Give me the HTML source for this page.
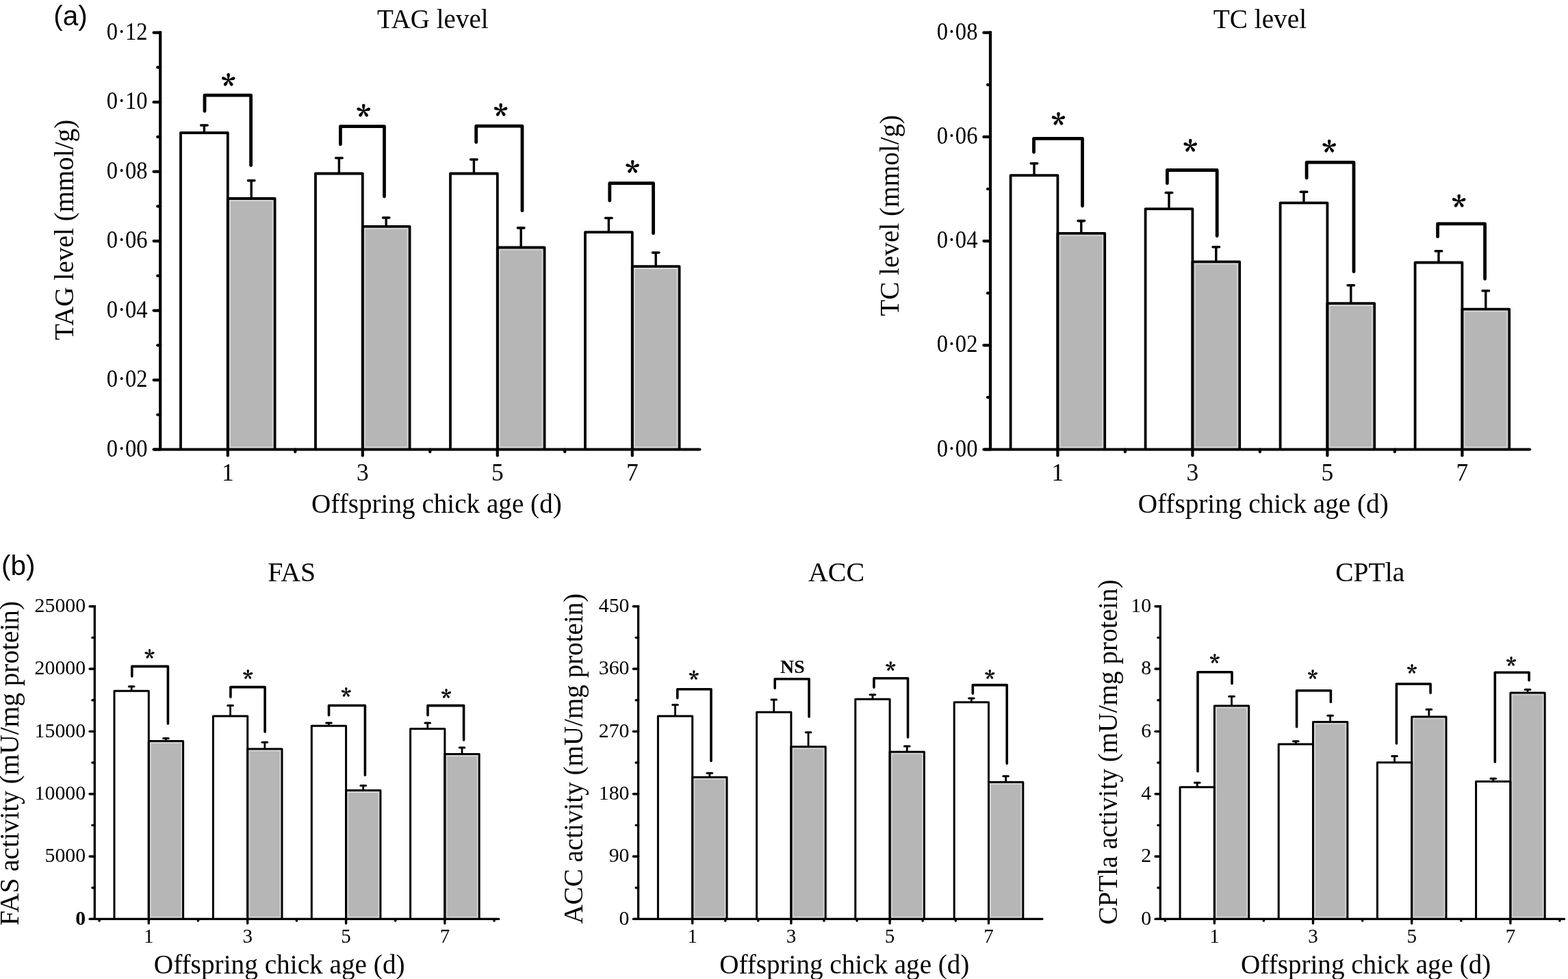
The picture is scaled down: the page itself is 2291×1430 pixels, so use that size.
<!DOCTYPE html>
<html><head><meta charset="utf-8"><title>Figure</title>
<style>html,body{margin:0;padding:0;background:#fff;} svg{display:block;}</style>
</head><body>
<svg width="2291" height="1430" viewBox="0 0 2291 1430">
<rect width="2291" height="1430" fill="#fff"/>
<rect x="334.70" y="291.90" width="65.00" height="362.50" fill="#d4d4d4"/>
<rect x="336.90" y="294.10" width="60.60" height="358.10" fill="#b6b6b6"/>
<path d="M264.00,656.50 V194.00 H332.80 V656.50" fill="none" stroke="#000" stroke-width="3.8" stroke-linejoin="round"/>
<path d="M332.80,656.50 V290.00 H401.60 V656.50" fill="none" stroke="#000" stroke-width="3.8" stroke-linejoin="round"/>
<line x1="298.40" y1="194.00" x2="298.40" y2="183.00" stroke="#000" stroke-width="3.4" stroke-linecap="butt"/>
<line x1="293.70" y1="183.00" x2="303.10" y2="183.00" stroke="#000" stroke-width="3.6" stroke-linecap="round"/>
<line x1="367.20" y1="290.00" x2="367.20" y2="263.80" stroke="#000" stroke-width="3.4" stroke-linecap="butt"/>
<line x1="362.50" y1="263.80" x2="371.90" y2="263.80" stroke="#000" stroke-width="3.6" stroke-linecap="round"/>
<path d="M299.00,162.30 V139.20 H366.60 V241.50" fill="none" stroke="#000" stroke-width="4.8" stroke-linecap="round" stroke-linejoin="round"/>
<text x="333.80" y="141.50" font-family='"Noto Serif CJK SC", "Liberation Serif", serif' font-size="42" font-weight="bold" text-anchor="middle" stroke="#000" stroke-width="0.6" stroke-linejoin="round">*</text>
<rect x="531.70" y="332.70" width="65.00" height="321.70" fill="#d4d4d4"/>
<rect x="533.90" y="334.90" width="60.60" height="317.30" fill="#b6b6b6"/>
<path d="M461.00,656.50 V253.50 H529.80 V656.50" fill="none" stroke="#000" stroke-width="3.8" stroke-linejoin="round"/>
<path d="M529.80,656.50 V330.80 H598.60 V656.50" fill="none" stroke="#000" stroke-width="3.8" stroke-linejoin="round"/>
<line x1="495.40" y1="253.50" x2="495.40" y2="230.80" stroke="#000" stroke-width="3.4" stroke-linecap="butt"/>
<line x1="490.70" y1="230.80" x2="500.10" y2="230.80" stroke="#000" stroke-width="3.6" stroke-linecap="round"/>
<line x1="564.20" y1="330.80" x2="564.20" y2="318.00" stroke="#000" stroke-width="3.4" stroke-linecap="butt"/>
<line x1="559.50" y1="318.00" x2="568.90" y2="318.00" stroke="#000" stroke-width="3.6" stroke-linecap="round"/>
<path d="M497.40,210.80 V184.60 H561.50 V287.00" fill="none" stroke="#000" stroke-width="4.8" stroke-linecap="round" stroke-linejoin="round"/>
<text x="531.20" y="186.80" font-family='"Noto Serif CJK SC", "Liberation Serif", serif' font-size="42" font-weight="bold" text-anchor="middle" stroke="#000" stroke-width="0.6" stroke-linejoin="round">*</text>
<rect x="728.70" y="363.40" width="65.00" height="291.00" fill="#d4d4d4"/>
<rect x="730.90" y="365.60" width="60.60" height="286.60" fill="#b6b6b6"/>
<path d="M658.00,656.50 V253.50 H726.80 V656.50" fill="none" stroke="#000" stroke-width="3.8" stroke-linejoin="round"/>
<path d="M726.80,656.50 V361.50 H795.60 V656.50" fill="none" stroke="#000" stroke-width="3.8" stroke-linejoin="round"/>
<line x1="692.40" y1="253.50" x2="692.40" y2="233.00" stroke="#000" stroke-width="3.4" stroke-linecap="butt"/>
<line x1="687.70" y1="233.00" x2="697.10" y2="233.00" stroke="#000" stroke-width="3.6" stroke-linecap="round"/>
<line x1="761.20" y1="361.50" x2="761.20" y2="332.90" stroke="#000" stroke-width="3.4" stroke-linecap="butt"/>
<line x1="756.50" y1="332.90" x2="765.90" y2="332.90" stroke="#000" stroke-width="3.6" stroke-linecap="round"/>
<path d="M695.70,207.70 V184.20 H763.00 V307.70" fill="none" stroke="#000" stroke-width="4.8" stroke-linecap="round" stroke-linejoin="round"/>
<text x="731.80" y="186.10" font-family='"Noto Serif CJK SC", "Liberation Serif", serif' font-size="42" font-weight="bold" text-anchor="middle" stroke="#000" stroke-width="0.6" stroke-linejoin="round">*</text>
<rect x="925.70" y="391.10" width="65.00" height="263.30" fill="#d4d4d4"/>
<rect x="927.90" y="393.30" width="60.60" height="258.90" fill="#b6b6b6"/>
<path d="M855.00,656.50 V339.20 H923.80 V656.50" fill="none" stroke="#000" stroke-width="3.8" stroke-linejoin="round"/>
<path d="M923.80,656.50 V389.20 H992.60 V656.50" fill="none" stroke="#000" stroke-width="3.8" stroke-linejoin="round"/>
<line x1="889.40" y1="339.20" x2="889.40" y2="318.50" stroke="#000" stroke-width="3.4" stroke-linecap="butt"/>
<line x1="884.70" y1="318.50" x2="894.10" y2="318.50" stroke="#000" stroke-width="3.6" stroke-linecap="round"/>
<line x1="958.20" y1="389.20" x2="958.20" y2="369.00" stroke="#000" stroke-width="3.4" stroke-linecap="butt"/>
<line x1="953.50" y1="369.00" x2="962.90" y2="369.00" stroke="#000" stroke-width="3.6" stroke-linecap="round"/>
<path d="M890.80,293.00 V267.70 H954.60 V340.80" fill="none" stroke="#000" stroke-width="4.8" stroke-linecap="round" stroke-linejoin="round"/>
<text x="924.30" y="269.20" font-family='"Noto Serif CJK SC", "Liberation Serif", serif' font-size="42" font-weight="bold" text-anchor="middle" stroke="#000" stroke-width="0.6" stroke-linejoin="round">*</text>
<line x1="234.20" y1="45.60" x2="234.20" y2="656.50" stroke="#000" stroke-width="4.2" stroke-linecap="butt"/>
<line x1="225.20" y1="656.50" x2="1022.40" y2="656.50" stroke="#000" stroke-width="4.2" stroke-linecap="round"/>
<line x1="224.60" y1="47.70" x2="234.20" y2="47.70" stroke="#000" stroke-width="4.2" stroke-linecap="round"/>
<line x1="230.20" y1="98.43" x2="234.20" y2="98.43" stroke="#000" stroke-width="4.2" stroke-linecap="round"/>
<line x1="224.60" y1="149.17" x2="234.20" y2="149.17" stroke="#000" stroke-width="4.2" stroke-linecap="round"/>
<line x1="230.20" y1="199.90" x2="234.20" y2="199.90" stroke="#000" stroke-width="4.2" stroke-linecap="round"/>
<line x1="224.60" y1="250.63" x2="234.20" y2="250.63" stroke="#000" stroke-width="4.2" stroke-linecap="round"/>
<line x1="230.20" y1="301.37" x2="234.20" y2="301.37" stroke="#000" stroke-width="4.2" stroke-linecap="round"/>
<line x1="224.60" y1="352.10" x2="234.20" y2="352.10" stroke="#000" stroke-width="4.2" stroke-linecap="round"/>
<line x1="230.20" y1="402.83" x2="234.20" y2="402.83" stroke="#000" stroke-width="4.2" stroke-linecap="round"/>
<line x1="224.60" y1="453.57" x2="234.20" y2="453.57" stroke="#000" stroke-width="4.2" stroke-linecap="round"/>
<line x1="230.20" y1="504.30" x2="234.20" y2="504.30" stroke="#000" stroke-width="4.2" stroke-linecap="round"/>
<line x1="224.60" y1="555.03" x2="234.20" y2="555.03" stroke="#000" stroke-width="4.2" stroke-linecap="round"/>
<line x1="230.20" y1="605.77" x2="234.20" y2="605.77" stroke="#000" stroke-width="4.2" stroke-linecap="round"/>
<line x1="224.60" y1="656.50" x2="234.20" y2="656.50" stroke="#000" stroke-width="4.2" stroke-linecap="round"/>
<line x1="332.80" y1="656.50" x2="332.80" y2="665.50" stroke="#000" stroke-width="4.2" stroke-linecap="round"/>
<line x1="529.80" y1="656.50" x2="529.80" y2="665.50" stroke="#000" stroke-width="4.2" stroke-linecap="round"/>
<line x1="726.80" y1="656.50" x2="726.80" y2="665.50" stroke="#000" stroke-width="4.2" stroke-linecap="round"/>
<line x1="923.80" y1="656.50" x2="923.80" y2="665.50" stroke="#000" stroke-width="4.2" stroke-linecap="round"/>
<line x1="431.30" y1="656.50" x2="431.30" y2="659.90" stroke="#000" stroke-width="4.2" stroke-linecap="round"/>
<line x1="628.30" y1="656.50" x2="628.30" y2="659.90" stroke="#000" stroke-width="4.2" stroke-linecap="round"/>
<line x1="825.30" y1="656.50" x2="825.30" y2="659.90" stroke="#000" stroke-width="4.2" stroke-linecap="round"/>
<text x="0.00" y="0.00" font-family='"Liberation Serif", "Times New Roman", serif' font-size="35.5" font-weight="normal" text-anchor="end" transform="translate(215.70,57.80) scale(0.92,1)">0·12</text>
<text x="0.00" y="0.00" font-family='"Liberation Serif", "Times New Roman", serif' font-size="35.5" font-weight="normal" text-anchor="end" transform="translate(215.70,159.27) scale(0.92,1)">0·10</text>
<text x="0.00" y="0.00" font-family='"Liberation Serif", "Times New Roman", serif' font-size="35.5" font-weight="normal" text-anchor="end" transform="translate(215.70,260.73) scale(0.92,1)">0·08</text>
<text x="0.00" y="0.00" font-family='"Liberation Serif", "Times New Roman", serif' font-size="35.5" font-weight="normal" text-anchor="end" transform="translate(215.70,362.20) scale(0.92,1)">0·06</text>
<text x="0.00" y="0.00" font-family='"Liberation Serif", "Times New Roman", serif' font-size="35.5" font-weight="normal" text-anchor="end" transform="translate(215.70,463.67) scale(0.92,1)">0·04</text>
<text x="0.00" y="0.00" font-family='"Liberation Serif", "Times New Roman", serif' font-size="35.5" font-weight="normal" text-anchor="end" transform="translate(215.70,565.13) scale(0.92,1)">0·02</text>
<text x="0.00" y="0.00" font-family='"Liberation Serif", "Times New Roman", serif' font-size="35.5" font-weight="normal" text-anchor="end" transform="translate(215.70,666.60) scale(0.92,1)">0·00</text>
<text x="332.80" y="701.70" font-family='"Liberation Serif", "Times New Roman", serif' font-size="35.5" font-weight="normal" text-anchor="middle">1</text>
<text x="529.80" y="701.70" font-family='"Liberation Serif", "Times New Roman", serif' font-size="35.5" font-weight="normal" text-anchor="middle">3</text>
<text x="726.80" y="701.70" font-family='"Liberation Serif", "Times New Roman", serif' font-size="35.5" font-weight="normal" text-anchor="middle">5</text>
<text x="923.80" y="701.70" font-family='"Liberation Serif", "Times New Roman", serif' font-size="35.5" font-weight="normal" text-anchor="middle">7</text>
<text x="551.01" y="40.80" font-family='"Liberation Serif", "Times New Roman", serif' font-size="39.5" font-weight="normal" text-anchor="start" textLength="162.53" lengthAdjust="spacingAndGlyphs">TAG level</text>
<text x="455.02" y="749.00" font-family='"Liberation Serif", "Times New Roman", serif' font-size="39.5" font-weight="normal" text-anchor="start" textLength="365.77" lengthAdjust="spacingAndGlyphs">Offspring chick age (d)</text>
<text transform="translate(106.50,496.90) rotate(-90)" x="0" y="0" font-family='"Liberation Serif", "Times New Roman", serif' font-size="39.5" textLength="322.22" lengthAdjust="spacingAndGlyphs">TAG level (mmol/g)</text>
<rect x="1547.30" y="342.70" width="65.00" height="311.70" fill="#d4d4d4"/>
<rect x="1549.50" y="344.90" width="60.60" height="307.30" fill="#b6b6b6"/>
<path d="M1476.60,656.50 V256.20 H1545.40 V656.50" fill="none" stroke="#000" stroke-width="3.8" stroke-linejoin="round"/>
<path d="M1545.40,656.50 V340.80 H1614.20 V656.50" fill="none" stroke="#000" stroke-width="3.8" stroke-linejoin="round"/>
<line x1="1511.00" y1="256.20" x2="1511.00" y2="238.80" stroke="#000" stroke-width="3.4" stroke-linecap="butt"/>
<line x1="1506.30" y1="238.80" x2="1515.70" y2="238.80" stroke="#000" stroke-width="3.6" stroke-linecap="round"/>
<line x1="1579.80" y1="340.80" x2="1579.80" y2="322.60" stroke="#000" stroke-width="3.4" stroke-linecap="butt"/>
<line x1="1575.10" y1="322.60" x2="1584.50" y2="322.60" stroke="#000" stroke-width="3.6" stroke-linecap="round"/>
<path d="M1510.50,222.30 V202.30 H1581.50 V300.80" fill="none" stroke="#000" stroke-width="4.8" stroke-linecap="round" stroke-linejoin="round"/>
<text x="1546.50" y="199.20" font-family='"Noto Serif CJK SC", "Liberation Serif", serif' font-size="42" font-weight="bold" text-anchor="middle" stroke="#000" stroke-width="0.6" stroke-linejoin="round">*</text>
<rect x="1744.30" y="384.20" width="65.00" height="270.20" fill="#d4d4d4"/>
<rect x="1746.50" y="386.40" width="60.60" height="265.80" fill="#b6b6b6"/>
<path d="M1673.60,656.50 V305.10 H1742.40 V656.50" fill="none" stroke="#000" stroke-width="3.8" stroke-linejoin="round"/>
<path d="M1742.40,656.50 V382.30 H1811.20 V656.50" fill="none" stroke="#000" stroke-width="3.8" stroke-linejoin="round"/>
<line x1="1708.00" y1="305.10" x2="1708.00" y2="281.50" stroke="#000" stroke-width="3.4" stroke-linecap="butt"/>
<line x1="1703.30" y1="281.50" x2="1712.70" y2="281.50" stroke="#000" stroke-width="3.6" stroke-linecap="round"/>
<line x1="1776.80" y1="382.30" x2="1776.80" y2="360.80" stroke="#000" stroke-width="3.4" stroke-linecap="butt"/>
<line x1="1772.10" y1="360.80" x2="1781.50" y2="360.80" stroke="#000" stroke-width="3.6" stroke-linecap="round"/>
<path d="M1705.40,267.70 V248.50 H1778.20 V344.60" fill="none" stroke="#000" stroke-width="4.8" stroke-linecap="round" stroke-linejoin="round"/>
<text x="1739.20" y="238.40" font-family='"Noto Serif CJK SC", "Liberation Serif", serif' font-size="42" font-weight="bold" text-anchor="middle" stroke="#000" stroke-width="0.6" stroke-linejoin="round">*</text>
<rect x="1941.30" y="445.00" width="65.00" height="209.40" fill="#d4d4d4"/>
<rect x="1943.50" y="447.20" width="60.60" height="205.00" fill="#b6b6b6"/>
<path d="M1870.60,656.50 V296.30 H1939.40 V656.50" fill="none" stroke="#000" stroke-width="3.8" stroke-linejoin="round"/>
<path d="M1939.40,656.50 V443.10 H2008.20 V656.50" fill="none" stroke="#000" stroke-width="3.8" stroke-linejoin="round"/>
<line x1="1905.00" y1="296.30" x2="1905.00" y2="280.30" stroke="#000" stroke-width="3.4" stroke-linecap="butt"/>
<line x1="1900.30" y1="280.30" x2="1909.70" y2="280.30" stroke="#000" stroke-width="3.6" stroke-linecap="round"/>
<line x1="1973.80" y1="443.10" x2="1973.80" y2="416.70" stroke="#000" stroke-width="3.4" stroke-linecap="butt"/>
<line x1="1969.10" y1="416.70" x2="1978.50" y2="416.70" stroke="#000" stroke-width="3.6" stroke-linecap="round"/>
<path d="M1909.10,259.90 V237.20 H1978.00 V396.80" fill="none" stroke="#000" stroke-width="4.8" stroke-linecap="round" stroke-linejoin="round"/>
<text x="1942.20" y="238.50" font-family='"Noto Serif CJK SC", "Liberation Serif", serif' font-size="42" font-weight="bold" text-anchor="middle" stroke="#000" stroke-width="0.6" stroke-linejoin="round">*</text>
<rect x="2138.30" y="453.60" width="65.00" height="200.80" fill="#d4d4d4"/>
<rect x="2140.50" y="455.80" width="60.60" height="196.40" fill="#b6b6b6"/>
<path d="M2067.60,656.50 V383.50 H2136.40 V656.50" fill="none" stroke="#000" stroke-width="3.8" stroke-linejoin="round"/>
<path d="M2136.40,656.50 V451.70 H2205.20 V656.50" fill="none" stroke="#000" stroke-width="3.8" stroke-linejoin="round"/>
<line x1="2102.00" y1="383.50" x2="2102.00" y2="366.70" stroke="#000" stroke-width="3.4" stroke-linecap="butt"/>
<line x1="2097.30" y1="366.70" x2="2106.70" y2="366.70" stroke="#000" stroke-width="3.6" stroke-linecap="round"/>
<line x1="2170.80" y1="451.70" x2="2170.80" y2="424.80" stroke="#000" stroke-width="3.4" stroke-linecap="butt"/>
<line x1="2166.10" y1="424.80" x2="2175.50" y2="424.80" stroke="#000" stroke-width="3.6" stroke-linecap="round"/>
<path d="M2100.60,345.70 V326.90 H2169.60 V407.30" fill="none" stroke="#000" stroke-width="4.8" stroke-linecap="round" stroke-linejoin="round"/>
<text x="2131.80" y="319.40" font-family='"Noto Serif CJK SC", "Liberation Serif", serif' font-size="42" font-weight="bold" text-anchor="middle" stroke="#000" stroke-width="0.6" stroke-linejoin="round">*</text>
<line x1="1447.00" y1="45.60" x2="1447.00" y2="656.50" stroke="#000" stroke-width="4.2" stroke-linecap="butt"/>
<line x1="1438.00" y1="656.50" x2="2235.00" y2="656.50" stroke="#000" stroke-width="4.2" stroke-linecap="round"/>
<line x1="1437.40" y1="47.70" x2="1447.00" y2="47.70" stroke="#000" stroke-width="4.2" stroke-linecap="round"/>
<line x1="1443.00" y1="123.80" x2="1447.00" y2="123.80" stroke="#000" stroke-width="4.2" stroke-linecap="round"/>
<line x1="1437.40" y1="199.90" x2="1447.00" y2="199.90" stroke="#000" stroke-width="4.2" stroke-linecap="round"/>
<line x1="1443.00" y1="276.00" x2="1447.00" y2="276.00" stroke="#000" stroke-width="4.2" stroke-linecap="round"/>
<line x1="1437.40" y1="352.10" x2="1447.00" y2="352.10" stroke="#000" stroke-width="4.2" stroke-linecap="round"/>
<line x1="1443.00" y1="428.20" x2="1447.00" y2="428.20" stroke="#000" stroke-width="4.2" stroke-linecap="round"/>
<line x1="1437.40" y1="504.30" x2="1447.00" y2="504.30" stroke="#000" stroke-width="4.2" stroke-linecap="round"/>
<line x1="1443.00" y1="580.40" x2="1447.00" y2="580.40" stroke="#000" stroke-width="4.2" stroke-linecap="round"/>
<line x1="1437.40" y1="656.50" x2="1447.00" y2="656.50" stroke="#000" stroke-width="4.2" stroke-linecap="round"/>
<line x1="1545.40" y1="656.50" x2="1545.40" y2="665.50" stroke="#000" stroke-width="4.2" stroke-linecap="round"/>
<line x1="1742.40" y1="656.50" x2="1742.40" y2="665.50" stroke="#000" stroke-width="4.2" stroke-linecap="round"/>
<line x1="1939.40" y1="656.50" x2="1939.40" y2="665.50" stroke="#000" stroke-width="4.2" stroke-linecap="round"/>
<line x1="2136.40" y1="656.50" x2="2136.40" y2="665.50" stroke="#000" stroke-width="4.2" stroke-linecap="round"/>
<line x1="1643.90" y1="656.50" x2="1643.90" y2="659.90" stroke="#000" stroke-width="4.2" stroke-linecap="round"/>
<line x1="1840.90" y1="656.50" x2="1840.90" y2="659.90" stroke="#000" stroke-width="4.2" stroke-linecap="round"/>
<line x1="2037.90" y1="656.50" x2="2037.90" y2="659.90" stroke="#000" stroke-width="4.2" stroke-linecap="round"/>
<text x="0.00" y="0.00" font-family='"Liberation Serif", "Times New Roman", serif' font-size="35.5" font-weight="normal" text-anchor="end" transform="translate(1428.50,57.80) scale(0.92,1)">0·08</text>
<text x="0.00" y="0.00" font-family='"Liberation Serif", "Times New Roman", serif' font-size="35.5" font-weight="normal" text-anchor="end" transform="translate(1428.50,210.00) scale(0.92,1)">0·06</text>
<text x="0.00" y="0.00" font-family='"Liberation Serif", "Times New Roman", serif' font-size="35.5" font-weight="normal" text-anchor="end" transform="translate(1428.50,362.20) scale(0.92,1)">0·04</text>
<text x="0.00" y="0.00" font-family='"Liberation Serif", "Times New Roman", serif' font-size="35.5" font-weight="normal" text-anchor="end" transform="translate(1428.50,514.40) scale(0.92,1)">0·02</text>
<text x="0.00" y="0.00" font-family='"Liberation Serif", "Times New Roman", serif' font-size="35.5" font-weight="normal" text-anchor="end" transform="translate(1428.50,666.60) scale(0.92,1)">0·00</text>
<text x="1545.40" y="701.70" font-family='"Liberation Serif", "Times New Roman", serif' font-size="35.5" font-weight="normal" text-anchor="middle">1</text>
<text x="1742.40" y="701.70" font-family='"Liberation Serif", "Times New Roman", serif' font-size="35.5" font-weight="normal" text-anchor="middle">3</text>
<text x="1939.40" y="701.70" font-family='"Liberation Serif", "Times New Roman", serif' font-size="35.5" font-weight="normal" text-anchor="middle">5</text>
<text x="2136.40" y="701.70" font-family='"Liberation Serif", "Times New Roman", serif' font-size="35.5" font-weight="normal" text-anchor="middle">7</text>
<text x="1772.71" y="40.80" font-family='"Liberation Serif", "Times New Roman", serif' font-size="39.5" font-weight="normal" text-anchor="start" textLength="136.41" lengthAdjust="spacingAndGlyphs">TC level</text>
<text x="1662.72" y="749.10" font-family='"Liberation Serif", "Times New Roman", serif' font-size="39.5" font-weight="normal" text-anchor="start" textLength="365.98" lengthAdjust="spacingAndGlyphs">Offspring chick age (d)</text>
<text transform="translate(1312.50,461.79) rotate(-90)" x="0" y="0" font-family='"Liberation Serif", "Times New Roman", serif' font-size="39.5" textLength="293.98" lengthAdjust="spacingAndGlyphs">TC level (mmol/g)</text>
<rect x="218.80" y="1084.00" width="47.30" height="256.75" fill="#d4d4d4"/>
<rect x="220.80" y="1086.00" width="43.30" height="252.75" fill="#b6b6b6"/>
<path d="M167.00,1342.40 V1009.30 H217.30 V1342.40" fill="none" stroke="#000" stroke-width="3.0" stroke-linejoin="round"/>
<path d="M217.30,1342.40 V1082.50 H267.60 V1342.40" fill="none" stroke="#000" stroke-width="3.0" stroke-linejoin="round"/>
<line x1="192.15" y1="1009.30" x2="192.15" y2="1002.70" stroke="#000" stroke-width="2.8" stroke-linecap="butt"/>
<line x1="188.35" y1="1002.70" x2="195.95" y2="1002.70" stroke="#000" stroke-width="3.0" stroke-linecap="round"/>
<line x1="242.45" y1="1082.50" x2="242.45" y2="1078.50" stroke="#000" stroke-width="2.8" stroke-linecap="butt"/>
<line x1="238.65" y1="1078.50" x2="246.25" y2="1078.50" stroke="#000" stroke-width="3.0" stroke-linecap="round"/>
<path d="M192.80,987.90 V973.40 H245.40 V1057.10" fill="none" stroke="#000" stroke-width="3.6" stroke-linecap="round" stroke-linejoin="round"/>
<text x="218.60" y="973.30" font-family='"Noto Serif CJK SC", "Liberation Serif", serif' font-size="30" font-weight="bold" text-anchor="middle" stroke="#000" stroke-width="0.5" stroke-linejoin="round">*</text>
<rect x="363.20" y="1095.60" width="47.30" height="245.15" fill="#d4d4d4"/>
<rect x="365.20" y="1097.60" width="43.30" height="241.15" fill="#b6b6b6"/>
<path d="M311.40,1342.40 V1045.90 H361.70 V1342.40" fill="none" stroke="#000" stroke-width="3.0" stroke-linejoin="round"/>
<path d="M361.70,1342.40 V1094.10 H412.00 V1342.40" fill="none" stroke="#000" stroke-width="3.0" stroke-linejoin="round"/>
<line x1="336.55" y1="1045.90" x2="336.55" y2="1030.40" stroke="#000" stroke-width="2.8" stroke-linecap="butt"/>
<line x1="332.75" y1="1030.40" x2="340.35" y2="1030.40" stroke="#000" stroke-width="3.0" stroke-linecap="round"/>
<line x1="386.85" y1="1094.10" x2="386.85" y2="1084.20" stroke="#000" stroke-width="2.8" stroke-linecap="butt"/>
<line x1="383.05" y1="1084.20" x2="390.65" y2="1084.20" stroke="#000" stroke-width="3.0" stroke-linecap="round"/>
<path d="M336.90,1018.30 V1003.60 H387.10 V1069.00" fill="none" stroke="#000" stroke-width="3.6" stroke-linecap="round" stroke-linejoin="round"/>
<text x="362.40" y="1003.30" font-family='"Noto Serif CJK SC", "Liberation Serif", serif' font-size="30" font-weight="bold" text-anchor="middle" stroke="#000" stroke-width="0.5" stroke-linejoin="round">*</text>
<rect x="507.10" y="1156.10" width="47.30" height="184.65" fill="#d4d4d4"/>
<rect x="509.10" y="1158.10" width="43.30" height="180.65" fill="#b6b6b6"/>
<path d="M455.30,1342.40 V1060.20 H505.60 V1342.40" fill="none" stroke="#000" stroke-width="3.0" stroke-linejoin="round"/>
<path d="M505.60,1342.40 V1154.60 H555.90 V1342.40" fill="none" stroke="#000" stroke-width="3.0" stroke-linejoin="round"/>
<line x1="480.45" y1="1060.20" x2="480.45" y2="1056.10" stroke="#000" stroke-width="2.8" stroke-linecap="butt"/>
<line x1="476.65" y1="1056.10" x2="484.25" y2="1056.10" stroke="#000" stroke-width="3.0" stroke-linecap="round"/>
<line x1="530.75" y1="1154.60" x2="530.75" y2="1147.60" stroke="#000" stroke-width="2.8" stroke-linecap="butt"/>
<line x1="526.95" y1="1147.60" x2="534.55" y2="1147.60" stroke="#000" stroke-width="3.0" stroke-linecap="round"/>
<path d="M480.50,1044.70 V1030.50 H533.40 V1132.20" fill="none" stroke="#000" stroke-width="3.6" stroke-linecap="round" stroke-linejoin="round"/>
<text x="505.70" y="1029.20" font-family='"Noto Serif CJK SC", "Liberation Serif", serif' font-size="30" font-weight="bold" text-anchor="middle" stroke="#000" stroke-width="0.5" stroke-linejoin="round">*</text>
<rect x="651.40" y="1103.10" width="47.30" height="237.65" fill="#d4d4d4"/>
<rect x="653.40" y="1105.10" width="43.30" height="233.65" fill="#b6b6b6"/>
<path d="M599.60,1342.40 V1064.40 H649.90 V1342.40" fill="none" stroke="#000" stroke-width="3.0" stroke-linejoin="round"/>
<path d="M649.90,1342.40 V1101.60 H700.20 V1342.40" fill="none" stroke="#000" stroke-width="3.0" stroke-linejoin="round"/>
<line x1="624.75" y1="1064.40" x2="624.75" y2="1056.10" stroke="#000" stroke-width="2.8" stroke-linecap="butt"/>
<line x1="620.95" y1="1056.10" x2="628.55" y2="1056.10" stroke="#000" stroke-width="3.0" stroke-linecap="round"/>
<line x1="675.05" y1="1101.60" x2="675.05" y2="1092.10" stroke="#000" stroke-width="2.8" stroke-linecap="butt"/>
<line x1="671.25" y1="1092.10" x2="678.85" y2="1092.10" stroke="#000" stroke-width="3.0" stroke-linecap="round"/>
<path d="M625.00,1044.80 V1030.60 H677.60 V1081.00" fill="none" stroke="#000" stroke-width="3.6" stroke-linecap="round" stroke-linejoin="round"/>
<text x="652.00" y="1030.90" font-family='"Noto Serif CJK SC", "Liberation Serif", serif' font-size="30" font-weight="bold" text-anchor="middle" stroke="#000" stroke-width="0.5" stroke-linejoin="round">*</text>
<line x1="138.30" y1="884.05" x2="138.30" y2="1342.40" stroke="#000" stroke-width="3.3" stroke-linecap="butt"/>
<line x1="131.60" y1="1342.40" x2="728.80" y2="1342.40" stroke="#000" stroke-width="3.3" stroke-linecap="round"/>
<line x1="131.10" y1="885.70" x2="138.30" y2="885.70" stroke="#000" stroke-width="3.4" stroke-linecap="round"/>
<line x1="134.90" y1="931.37" x2="138.30" y2="931.37" stroke="#000" stroke-width="3.4" stroke-linecap="round"/>
<line x1="131.10" y1="977.04" x2="138.30" y2="977.04" stroke="#000" stroke-width="3.4" stroke-linecap="round"/>
<line x1="134.90" y1="1022.71" x2="138.30" y2="1022.71" stroke="#000" stroke-width="3.4" stroke-linecap="round"/>
<line x1="131.10" y1="1068.38" x2="138.30" y2="1068.38" stroke="#000" stroke-width="3.4" stroke-linecap="round"/>
<line x1="134.90" y1="1114.05" x2="138.30" y2="1114.05" stroke="#000" stroke-width="3.4" stroke-linecap="round"/>
<line x1="131.10" y1="1159.72" x2="138.30" y2="1159.72" stroke="#000" stroke-width="3.4" stroke-linecap="round"/>
<line x1="134.90" y1="1205.39" x2="138.30" y2="1205.39" stroke="#000" stroke-width="3.4" stroke-linecap="round"/>
<line x1="131.10" y1="1251.06" x2="138.30" y2="1251.06" stroke="#000" stroke-width="3.4" stroke-linecap="round"/>
<line x1="134.90" y1="1296.73" x2="138.30" y2="1296.73" stroke="#000" stroke-width="3.4" stroke-linecap="round"/>
<line x1="131.10" y1="1342.40" x2="138.30" y2="1342.40" stroke="#000" stroke-width="3.4" stroke-linecap="round"/>
<line x1="217.30" y1="1342.40" x2="217.30" y2="1348.80" stroke="#000" stroke-width="3.4" stroke-linecap="round"/>
<line x1="361.70" y1="1342.40" x2="361.70" y2="1348.80" stroke="#000" stroke-width="3.4" stroke-linecap="round"/>
<line x1="505.60" y1="1342.40" x2="505.60" y2="1348.80" stroke="#000" stroke-width="3.4" stroke-linecap="round"/>
<line x1="649.90" y1="1342.40" x2="649.90" y2="1348.80" stroke="#000" stroke-width="3.4" stroke-linecap="round"/>
<line x1="145.10" y1="1342.40" x2="145.10" y2="1345.00" stroke="#000" stroke-width="3.4" stroke-linecap="round"/>
<line x1="289.50" y1="1342.40" x2="289.50" y2="1345.00" stroke="#000" stroke-width="3.4" stroke-linecap="round"/>
<line x1="433.40" y1="1342.40" x2="433.40" y2="1345.00" stroke="#000" stroke-width="3.4" stroke-linecap="round"/>
<line x1="577.70" y1="1342.40" x2="577.70" y2="1345.00" stroke="#000" stroke-width="3.4" stroke-linecap="round"/>
<line x1="722.10" y1="1342.40" x2="722.10" y2="1345.00" stroke="#000" stroke-width="3.4" stroke-linecap="round"/>
<text x="0.00" y="0.00" font-family='"Liberation Serif", "Times New Roman", serif' font-size="29" font-weight="normal" text-anchor="end" transform="translate(125.20,893.90) scale(1.03,1)">25000</text>
<text x="0.00" y="0.00" font-family='"Liberation Serif", "Times New Roman", serif' font-size="29" font-weight="normal" text-anchor="end" transform="translate(125.20,985.24) scale(1.03,1)">20000</text>
<text x="0.00" y="0.00" font-family='"Liberation Serif", "Times New Roman", serif' font-size="29" font-weight="normal" text-anchor="end" transform="translate(125.20,1076.58) scale(1.03,1)">15000</text>
<text x="0.00" y="0.00" font-family='"Liberation Serif", "Times New Roman", serif' font-size="29" font-weight="normal" text-anchor="end" transform="translate(125.20,1167.92) scale(1.03,1)">10000</text>
<text x="0.00" y="0.00" font-family='"Liberation Serif", "Times New Roman", serif' font-size="29" font-weight="normal" text-anchor="end" transform="translate(125.20,1259.26) scale(1.03,1)">5000</text>
<text x="0.00" y="0.00" font-family='"Liberation Serif", "Times New Roman", serif' font-size="29" font-weight="bold" text-anchor="end" transform="translate(125.20,1350.60) scale(1.03,1)">0</text>
<text x="217.30" y="1377.00" font-family='"Liberation Serif", "Times New Roman", serif' font-size="29" font-weight="normal" text-anchor="middle">1</text>
<text x="361.70" y="1377.00" font-family='"Liberation Serif", "Times New Roman", serif' font-size="29" font-weight="normal" text-anchor="middle">3</text>
<text x="505.60" y="1377.00" font-family='"Liberation Serif", "Times New Roman", serif' font-size="29" font-weight="normal" text-anchor="middle">5</text>
<text x="649.90" y="1377.00" font-family='"Liberation Serif", "Times New Roman", serif' font-size="29" font-weight="normal" text-anchor="middle">7</text>
<text x="391.19" y="848.90" font-family='"Liberation Serif", "Times New Roman", serif' font-size="39.5" font-weight="normal" text-anchor="start" textLength="69.95" lengthAdjust="spacingAndGlyphs">FAS</text>
<text x="224.81" y="1422.20" font-family='"Liberation Serif", "Times New Roman", serif' font-size="39.5" font-weight="normal" text-anchor="start" textLength="366.88" lengthAdjust="spacingAndGlyphs">Offspring chick age (d)</text>
<text transform="translate(27.30,1351.89) rotate(-90)" x="0" y="0" font-family='"Liberation Serif", "Times New Roman", serif' font-size="39.5" textLength="474.00" lengthAdjust="spacingAndGlyphs">FAS activity (mU/mg protein)</text>
<rect x="1013.20" y="1136.80" width="47.30" height="203.95" fill="#d4d4d4"/>
<rect x="1015.20" y="1138.80" width="43.30" height="199.95" fill="#b6b6b6"/>
<path d="M961.40,1342.40 V1046.00 H1011.70 V1342.40" fill="none" stroke="#000" stroke-width="3.0" stroke-linejoin="round"/>
<path d="M1011.70,1342.40 V1135.30 H1062.00 V1342.40" fill="none" stroke="#000" stroke-width="3.0" stroke-linejoin="round"/>
<line x1="986.55" y1="1046.00" x2="986.55" y2="1029.40" stroke="#000" stroke-width="2.8" stroke-linecap="butt"/>
<line x1="982.75" y1="1029.40" x2="990.35" y2="1029.40" stroke="#000" stroke-width="3.0" stroke-linecap="round"/>
<line x1="1036.85" y1="1135.30" x2="1036.85" y2="1129.30" stroke="#000" stroke-width="2.8" stroke-linecap="butt"/>
<line x1="1033.05" y1="1129.30" x2="1040.65" y2="1129.30" stroke="#000" stroke-width="3.0" stroke-linecap="round"/>
<path d="M989.80,1019.70 V1006.80 H1039.00 V1111.40" fill="none" stroke="#000" stroke-width="3.6" stroke-linecap="round" stroke-linejoin="round"/>
<text x="1013.90" y="1004.00" font-family='"Noto Serif CJK SC", "Liberation Serif", serif' font-size="30" font-weight="bold" text-anchor="middle" stroke="#000" stroke-width="0.5" stroke-linejoin="round">*</text>
<rect x="1157.40" y="1092.30" width="47.30" height="248.45" fill="#d4d4d4"/>
<rect x="1159.40" y="1094.30" width="43.30" height="244.45" fill="#b6b6b6"/>
<path d="M1105.60,1342.40 V1040.30 H1155.90 V1342.40" fill="none" stroke="#000" stroke-width="3.0" stroke-linejoin="round"/>
<path d="M1155.90,1342.40 V1090.80 H1206.20 V1342.40" fill="none" stroke="#000" stroke-width="3.0" stroke-linejoin="round"/>
<line x1="1130.75" y1="1040.30" x2="1130.75" y2="1021.90" stroke="#000" stroke-width="2.8" stroke-linecap="butt"/>
<line x1="1126.95" y1="1021.90" x2="1134.55" y2="1021.90" stroke="#000" stroke-width="3.0" stroke-linecap="round"/>
<line x1="1181.05" y1="1090.80" x2="1181.05" y2="1069.70" stroke="#000" stroke-width="2.8" stroke-linecap="butt"/>
<line x1="1177.25" y1="1069.70" x2="1184.85" y2="1069.70" stroke="#000" stroke-width="3.0" stroke-linecap="round"/>
<path d="M1132.20,1005.30 V991.80 H1182.10 V1046.90" fill="none" stroke="#000" stroke-width="3.6" stroke-linecap="round" stroke-linejoin="round"/>
<text x="1157.95" y="982.70" font-family='"Liberation Serif", "Times New Roman", serif' font-size="28" font-weight="bold" text-anchor="middle" textLength="35.69" lengthAdjust="spacingAndGlyphs">NS</text>
<rect x="1301.60" y="1099.80" width="47.30" height="240.95" fill="#d4d4d4"/>
<rect x="1303.60" y="1101.80" width="43.30" height="236.95" fill="#b6b6b6"/>
<path d="M1249.80,1342.40 V1021.30 H1300.10 V1342.40" fill="none" stroke="#000" stroke-width="3.0" stroke-linejoin="round"/>
<path d="M1300.10,1342.40 V1098.30 H1350.40 V1342.40" fill="none" stroke="#000" stroke-width="3.0" stroke-linejoin="round"/>
<line x1="1274.95" y1="1021.30" x2="1274.95" y2="1014.80" stroke="#000" stroke-width="2.8" stroke-linecap="butt"/>
<line x1="1271.15" y1="1014.80" x2="1278.75" y2="1014.80" stroke="#000" stroke-width="3.0" stroke-linecap="round"/>
<line x1="1325.25" y1="1098.30" x2="1325.25" y2="1089.90" stroke="#000" stroke-width="2.8" stroke-linecap="butt"/>
<line x1="1321.45" y1="1089.90" x2="1329.05" y2="1089.90" stroke="#000" stroke-width="3.0" stroke-linecap="round"/>
<path d="M1276.90,1004.10 V990.80 H1326.50 V1076.90" fill="none" stroke="#000" stroke-width="3.6" stroke-linecap="round" stroke-linejoin="round"/>
<text x="1301.30" y="990.70" font-family='"Noto Serif CJK SC", "Liberation Serif", serif' font-size="30" font-weight="bold" text-anchor="middle" stroke="#000" stroke-width="0.5" stroke-linejoin="round">*</text>
<rect x="1446.00" y="1144.00" width="47.30" height="196.75" fill="#d4d4d4"/>
<rect x="1448.00" y="1146.00" width="43.30" height="192.75" fill="#b6b6b6"/>
<path d="M1394.20,1342.40 V1025.70 H1444.50 V1342.40" fill="none" stroke="#000" stroke-width="3.0" stroke-linejoin="round"/>
<path d="M1444.50,1342.40 V1142.50 H1494.80 V1342.40" fill="none" stroke="#000" stroke-width="3.0" stroke-linejoin="round"/>
<line x1="1419.35" y1="1025.70" x2="1419.35" y2="1019.90" stroke="#000" stroke-width="2.8" stroke-linecap="butt"/>
<line x1="1415.55" y1="1019.90" x2="1423.15" y2="1019.90" stroke="#000" stroke-width="3.0" stroke-linecap="round"/>
<line x1="1469.65" y1="1142.50" x2="1469.65" y2="1133.70" stroke="#000" stroke-width="2.8" stroke-linecap="butt"/>
<line x1="1465.85" y1="1133.70" x2="1473.45" y2="1133.70" stroke="#000" stroke-width="3.0" stroke-linecap="round"/>
<path d="M1421.30,1013.10 V1000.60 H1471.20 V1115.20" fill="none" stroke="#000" stroke-width="3.6" stroke-linecap="round" stroke-linejoin="round"/>
<text x="1446.40" y="1002.60" font-family='"Noto Serif CJK SC", "Liberation Serif", serif' font-size="30" font-weight="bold" text-anchor="middle" stroke="#000" stroke-width="0.5" stroke-linejoin="round">*</text>
<line x1="932.60" y1="884.05" x2="932.60" y2="1342.40" stroke="#000" stroke-width="3.3" stroke-linecap="butt"/>
<line x1="926.30" y1="1342.40" x2="1522.90" y2="1342.40" stroke="#000" stroke-width="3.3" stroke-linecap="round"/>
<line x1="925.40" y1="885.70" x2="932.60" y2="885.70" stroke="#000" stroke-width="3.4" stroke-linecap="round"/>
<line x1="929.20" y1="931.37" x2="932.60" y2="931.37" stroke="#000" stroke-width="3.4" stroke-linecap="round"/>
<line x1="925.40" y1="977.04" x2="932.60" y2="977.04" stroke="#000" stroke-width="3.4" stroke-linecap="round"/>
<line x1="929.20" y1="1022.71" x2="932.60" y2="1022.71" stroke="#000" stroke-width="3.4" stroke-linecap="round"/>
<line x1="925.40" y1="1068.38" x2="932.60" y2="1068.38" stroke="#000" stroke-width="3.4" stroke-linecap="round"/>
<line x1="929.20" y1="1114.05" x2="932.60" y2="1114.05" stroke="#000" stroke-width="3.4" stroke-linecap="round"/>
<line x1="925.40" y1="1159.72" x2="932.60" y2="1159.72" stroke="#000" stroke-width="3.4" stroke-linecap="round"/>
<line x1="929.20" y1="1205.39" x2="932.60" y2="1205.39" stroke="#000" stroke-width="3.4" stroke-linecap="round"/>
<line x1="925.40" y1="1251.06" x2="932.60" y2="1251.06" stroke="#000" stroke-width="3.4" stroke-linecap="round"/>
<line x1="929.20" y1="1296.73" x2="932.60" y2="1296.73" stroke="#000" stroke-width="3.4" stroke-linecap="round"/>
<line x1="925.40" y1="1342.40" x2="932.60" y2="1342.40" stroke="#000" stroke-width="3.4" stroke-linecap="round"/>
<line x1="1011.70" y1="1342.40" x2="1011.70" y2="1348.80" stroke="#000" stroke-width="3.4" stroke-linecap="round"/>
<line x1="1155.90" y1="1342.40" x2="1155.90" y2="1348.80" stroke="#000" stroke-width="3.4" stroke-linecap="round"/>
<line x1="1300.10" y1="1342.40" x2="1300.10" y2="1348.80" stroke="#000" stroke-width="3.4" stroke-linecap="round"/>
<line x1="1444.50" y1="1342.40" x2="1444.50" y2="1348.80" stroke="#000" stroke-width="3.4" stroke-linecap="round"/>
<line x1="1059.77" y1="1342.40" x2="1059.77" y2="1345.00" stroke="#000" stroke-width="3.4" stroke-linecap="round"/>
<line x1="1107.83" y1="1342.40" x2="1107.83" y2="1345.00" stroke="#000" stroke-width="3.4" stroke-linecap="round"/>
<line x1="1203.97" y1="1342.40" x2="1203.97" y2="1345.00" stroke="#000" stroke-width="3.4" stroke-linecap="round"/>
<line x1="1252.03" y1="1342.40" x2="1252.03" y2="1345.00" stroke="#000" stroke-width="3.4" stroke-linecap="round"/>
<line x1="1348.17" y1="1342.40" x2="1348.17" y2="1345.00" stroke="#000" stroke-width="3.4" stroke-linecap="round"/>
<line x1="1396.23" y1="1342.40" x2="1396.23" y2="1345.00" stroke="#000" stroke-width="3.4" stroke-linecap="round"/>
<text x="0.00" y="0.00" font-family='"Liberation Serif", "Times New Roman", serif' font-size="29" font-weight="normal" text-anchor="end" transform="translate(919.50,893.90) scale(1.03,1)">450</text>
<text x="0.00" y="0.00" font-family='"Liberation Serif", "Times New Roman", serif' font-size="29" font-weight="normal" text-anchor="end" transform="translate(919.50,985.24) scale(1.03,1)">360</text>
<text x="0.00" y="0.00" font-family='"Liberation Serif", "Times New Roman", serif' font-size="29" font-weight="normal" text-anchor="end" transform="translate(919.50,1076.58) scale(1.03,1)">270</text>
<text x="0.00" y="0.00" font-family='"Liberation Serif", "Times New Roman", serif' font-size="29" font-weight="normal" text-anchor="end" transform="translate(919.50,1167.92) scale(1.03,1)">180</text>
<text x="0.00" y="0.00" font-family='"Liberation Serif", "Times New Roman", serif' font-size="29" font-weight="normal" text-anchor="end" transform="translate(919.50,1259.26) scale(1.03,1)">90</text>
<text x="0.00" y="0.00" font-family='"Liberation Serif", "Times New Roman", serif' font-size="29" font-weight="normal" text-anchor="end" transform="translate(919.50,1350.60) scale(1.03,1)">0</text>
<text x="1011.70" y="1377.00" font-family='"Liberation Serif", "Times New Roman", serif' font-size="29" font-weight="normal" text-anchor="middle">1</text>
<text x="1155.90" y="1377.00" font-family='"Liberation Serif", "Times New Roman", serif' font-size="29" font-weight="normal" text-anchor="middle">3</text>
<text x="1300.10" y="1377.00" font-family='"Liberation Serif", "Times New Roman", serif' font-size="29" font-weight="normal" text-anchor="middle">5</text>
<text x="1444.50" y="1377.00" font-family='"Liberation Serif", "Times New Roman", serif' font-size="29" font-weight="normal" text-anchor="middle">7</text>
<text x="1180.90" y="848.80" font-family='"Liberation Serif", "Times New Roman", serif' font-size="39.5" font-weight="normal" text-anchor="start" textLength="82.14" lengthAdjust="spacingAndGlyphs">ACC</text>
<text x="1051.22" y="1422.00" font-family='"Liberation Serif", "Times New Roman", serif' font-size="39.5" font-weight="normal" text-anchor="start" textLength="365.17" lengthAdjust="spacingAndGlyphs">Offspring chick age (d)</text>
<text transform="translate(851.20,1349.60) rotate(-90)" x="0" y="0" font-family='"Liberation Serif", "Times New Roman", serif' font-size="39.5" textLength="482.98" lengthAdjust="spacingAndGlyphs">ACC activity (mU/mg protein)</text>
<rect x="1775.90" y="1032.60" width="47.30" height="308.15" fill="#d4d4d4"/>
<rect x="1777.90" y="1034.60" width="43.30" height="304.15" fill="#b6b6b6"/>
<path d="M1724.10,1342.40 V1149.70 H1774.40 V1342.40" fill="none" stroke="#000" stroke-width="3.0" stroke-linejoin="round"/>
<path d="M1774.40,1342.40 V1031.10 H1824.70 V1342.40" fill="none" stroke="#000" stroke-width="3.0" stroke-linejoin="round"/>
<line x1="1749.25" y1="1149.70" x2="1749.25" y2="1143.20" stroke="#000" stroke-width="2.8" stroke-linecap="butt"/>
<line x1="1745.45" y1="1143.20" x2="1753.05" y2="1143.20" stroke="#000" stroke-width="3.0" stroke-linecap="round"/>
<line x1="1799.55" y1="1031.10" x2="1799.55" y2="1017.20" stroke="#000" stroke-width="2.8" stroke-linecap="butt"/>
<line x1="1795.75" y1="1017.20" x2="1803.35" y2="1017.20" stroke="#000" stroke-width="3.0" stroke-linecap="round"/>
<path d="M1750.00,1126.70 V981.80 H1800.00 V998.50" fill="none" stroke="#000" stroke-width="3.6" stroke-linecap="round" stroke-linejoin="round"/>
<text x="1774.90" y="980.10" font-family='"Noto Serif CJK SC", "Liberation Serif", serif' font-size="30" font-weight="bold" text-anchor="middle" stroke="#000" stroke-width="0.5" stroke-linejoin="round">*</text>
<rect x="1920.00" y="1055.90" width="47.30" height="284.85" fill="#d4d4d4"/>
<rect x="1922.00" y="1057.90" width="43.30" height="280.85" fill="#b6b6b6"/>
<path d="M1868.20,1342.40 V1086.90 H1918.50 V1342.40" fill="none" stroke="#000" stroke-width="3.0" stroke-linejoin="round"/>
<path d="M1918.50,1342.40 V1054.40 H1968.80 V1342.40" fill="none" stroke="#000" stroke-width="3.0" stroke-linejoin="round"/>
<line x1="1893.35" y1="1086.90" x2="1893.35" y2="1082.70" stroke="#000" stroke-width="2.8" stroke-linecap="butt"/>
<line x1="1889.55" y1="1082.70" x2="1897.15" y2="1082.70" stroke="#000" stroke-width="3.0" stroke-linecap="round"/>
<line x1="1943.65" y1="1054.40" x2="1943.65" y2="1045.20" stroke="#000" stroke-width="2.8" stroke-linecap="butt"/>
<line x1="1939.85" y1="1045.20" x2="1947.45" y2="1045.20" stroke="#000" stroke-width="3.0" stroke-linecap="round"/>
<path d="M1894.60,1061.70 V1008.80 H1944.40 V1025.50" fill="none" stroke="#000" stroke-width="3.6" stroke-linecap="round" stroke-linejoin="round"/>
<text x="1918.00" y="1003.10" font-family='"Noto Serif CJK SC", "Liberation Serif", serif' font-size="30" font-weight="bold" text-anchor="middle" stroke="#000" stroke-width="0.5" stroke-linejoin="round">*</text>
<rect x="2064.20" y="1048.40" width="47.30" height="292.35" fill="#d4d4d4"/>
<rect x="2066.20" y="1050.40" width="43.30" height="288.35" fill="#b6b6b6"/>
<path d="M2012.40,1342.40 V1113.80 H2062.70 V1342.40" fill="none" stroke="#000" stroke-width="3.0" stroke-linejoin="round"/>
<path d="M2062.70,1342.40 V1046.90 H2113.00 V1342.40" fill="none" stroke="#000" stroke-width="3.0" stroke-linejoin="round"/>
<line x1="2037.55" y1="1113.80" x2="2037.55" y2="1104.50" stroke="#000" stroke-width="2.8" stroke-linecap="butt"/>
<line x1="2033.75" y1="1104.50" x2="2041.35" y2="1104.50" stroke="#000" stroke-width="3.0" stroke-linecap="round"/>
<line x1="2087.85" y1="1046.90" x2="2087.85" y2="1036.20" stroke="#000" stroke-width="2.8" stroke-linecap="butt"/>
<line x1="2084.05" y1="1036.20" x2="2091.65" y2="1036.20" stroke="#000" stroke-width="3.0" stroke-linecap="round"/>
<path d="M2040.40,1085.90 V999.00 H2090.10 V1012.20" fill="none" stroke="#000" stroke-width="3.6" stroke-linecap="round" stroke-linejoin="round"/>
<text x="2063.00" y="994.50" font-family='"Noto Serif CJK SC", "Liberation Serif", serif' font-size="30" font-weight="bold" text-anchor="middle" stroke="#000" stroke-width="0.5" stroke-linejoin="round">*</text>
<rect x="2208.40" y="1013.50" width="47.30" height="327.25" fill="#d4d4d4"/>
<rect x="2210.40" y="1015.50" width="43.30" height="323.25" fill="#b6b6b6"/>
<path d="M2156.60,1342.40 V1141.40 H2206.90 V1342.40" fill="none" stroke="#000" stroke-width="3.0" stroke-linejoin="round"/>
<path d="M2206.90,1342.40 V1012.00 H2257.20 V1342.40" fill="none" stroke="#000" stroke-width="3.0" stroke-linejoin="round"/>
<line x1="2181.75" y1="1141.40" x2="2181.75" y2="1137.30" stroke="#000" stroke-width="2.8" stroke-linecap="butt"/>
<line x1="2177.95" y1="1137.30" x2="2185.55" y2="1137.30" stroke="#000" stroke-width="3.0" stroke-linecap="round"/>
<line x1="2232.05" y1="1012.00" x2="2232.05" y2="1007.20" stroke="#000" stroke-width="2.8" stroke-linecap="butt"/>
<line x1="2228.25" y1="1007.20" x2="2235.85" y2="1007.20" stroke="#000" stroke-width="3.0" stroke-linecap="round"/>
<path d="M2184.30,1113.00 V982.30 H2234.10 V993.80" fill="none" stroke="#000" stroke-width="3.6" stroke-linecap="round" stroke-linejoin="round"/>
<text x="2208.00" y="983.90" font-family='"Noto Serif CJK SC", "Liberation Serif", serif' font-size="30" font-weight="bold" text-anchor="middle" stroke="#000" stroke-width="0.5" stroke-linejoin="round">*</text>
<line x1="1695.30" y1="884.05" x2="1695.30" y2="1342.40" stroke="#000" stroke-width="3.3" stroke-linecap="butt"/>
<line x1="1688.80" y1="1342.40" x2="2285.60" y2="1342.40" stroke="#000" stroke-width="3.3" stroke-linecap="round"/>
<line x1="1688.10" y1="885.70" x2="1695.30" y2="885.70" stroke="#000" stroke-width="3.4" stroke-linecap="round"/>
<line x1="1691.90" y1="931.37" x2="1695.30" y2="931.37" stroke="#000" stroke-width="3.4" stroke-linecap="round"/>
<line x1="1688.10" y1="977.04" x2="1695.30" y2="977.04" stroke="#000" stroke-width="3.4" stroke-linecap="round"/>
<line x1="1691.90" y1="1022.71" x2="1695.30" y2="1022.71" stroke="#000" stroke-width="3.4" stroke-linecap="round"/>
<line x1="1688.10" y1="1068.38" x2="1695.30" y2="1068.38" stroke="#000" stroke-width="3.4" stroke-linecap="round"/>
<line x1="1691.90" y1="1114.05" x2="1695.30" y2="1114.05" stroke="#000" stroke-width="3.4" stroke-linecap="round"/>
<line x1="1688.10" y1="1159.72" x2="1695.30" y2="1159.72" stroke="#000" stroke-width="3.4" stroke-linecap="round"/>
<line x1="1691.90" y1="1205.39" x2="1695.30" y2="1205.39" stroke="#000" stroke-width="3.4" stroke-linecap="round"/>
<line x1="1688.10" y1="1251.06" x2="1695.30" y2="1251.06" stroke="#000" stroke-width="3.4" stroke-linecap="round"/>
<line x1="1691.90" y1="1296.73" x2="1695.30" y2="1296.73" stroke="#000" stroke-width="3.4" stroke-linecap="round"/>
<line x1="1688.10" y1="1342.40" x2="1695.30" y2="1342.40" stroke="#000" stroke-width="3.4" stroke-linecap="round"/>
<line x1="1774.40" y1="1342.40" x2="1774.40" y2="1348.80" stroke="#000" stroke-width="3.4" stroke-linecap="round"/>
<line x1="1918.50" y1="1342.40" x2="1918.50" y2="1348.80" stroke="#000" stroke-width="3.4" stroke-linecap="round"/>
<line x1="2062.70" y1="1342.40" x2="2062.70" y2="1348.80" stroke="#000" stroke-width="3.4" stroke-linecap="round"/>
<line x1="2206.90" y1="1342.40" x2="2206.90" y2="1348.80" stroke="#000" stroke-width="3.4" stroke-linecap="round"/>
<line x1="1702.35" y1="1342.40" x2="1702.35" y2="1345.00" stroke="#000" stroke-width="3.4" stroke-linecap="round"/>
<line x1="1846.45" y1="1342.40" x2="1846.45" y2="1345.00" stroke="#000" stroke-width="3.4" stroke-linecap="round"/>
<line x1="1990.65" y1="1342.40" x2="1990.65" y2="1345.00" stroke="#000" stroke-width="3.4" stroke-linecap="round"/>
<line x1="2134.85" y1="1342.40" x2="2134.85" y2="1345.00" stroke="#000" stroke-width="3.4" stroke-linecap="round"/>
<line x1="2278.95" y1="1342.40" x2="2278.95" y2="1345.00" stroke="#000" stroke-width="3.4" stroke-linecap="round"/>
<text x="0.00" y="0.00" font-family='"Liberation Serif", "Times New Roman", serif' font-size="29" font-weight="normal" text-anchor="end" transform="translate(1682.20,893.90) scale(1.03,1)">10</text>
<text x="0.00" y="0.00" font-family='"Liberation Serif", "Times New Roman", serif' font-size="29" font-weight="normal" text-anchor="end" transform="translate(1682.20,985.24) scale(1.03,1)">8</text>
<text x="0.00" y="0.00" font-family='"Liberation Serif", "Times New Roman", serif' font-size="29" font-weight="normal" text-anchor="end" transform="translate(1682.20,1076.58) scale(1.03,1)">6</text>
<text x="0.00" y="0.00" font-family='"Liberation Serif", "Times New Roman", serif' font-size="29" font-weight="normal" text-anchor="end" transform="translate(1682.20,1167.92) scale(1.03,1)">4</text>
<text x="0.00" y="0.00" font-family='"Liberation Serif", "Times New Roman", serif' font-size="29" font-weight="normal" text-anchor="end" transform="translate(1682.20,1259.26) scale(1.03,1)">2</text>
<text x="0.00" y="0.00" font-family='"Liberation Serif", "Times New Roman", serif' font-size="29" font-weight="normal" text-anchor="end" transform="translate(1682.20,1350.60) scale(1.03,1)">0</text>
<text x="1774.40" y="1377.00" font-family='"Liberation Serif", "Times New Roman", serif' font-size="29" font-weight="normal" text-anchor="middle">1</text>
<text x="1918.50" y="1377.00" font-family='"Liberation Serif", "Times New Roman", serif' font-size="29" font-weight="normal" text-anchor="middle">3</text>
<text x="2062.70" y="1377.00" font-family='"Liberation Serif", "Times New Roman", serif' font-size="29" font-weight="normal" text-anchor="middle">5</text>
<text x="2206.90" y="1377.00" font-family='"Liberation Serif", "Times New Roman", serif' font-size="29" font-weight="normal" text-anchor="middle">7</text>
<text x="1951.20" y="848.80" font-family='"Liberation Serif", "Times New Roman", serif' font-size="39.5" font-weight="normal" text-anchor="start" textLength="101.06" lengthAdjust="spacingAndGlyphs">CPTla</text>
<text x="1813.12" y="1422.00" font-family='"Liberation Serif", "Times New Roman", serif' font-size="39.5" font-weight="normal" text-anchor="start" textLength="365.27" lengthAdjust="spacingAndGlyphs">Offspring chick age (d)</text>
<text transform="translate(1631.60,1350.59) rotate(-90)" x="0" y="0" font-family='"Liberation Serif", "Times New Roman", serif' font-size="39.5" textLength="504.21" lengthAdjust="spacingAndGlyphs">CPTla activity (mU/mg protein)</text>
<text x="78.30" y="37.00" font-family='"Liberation Sans", Arial, sans-serif' font-size="40.5" font-weight="normal" text-anchor="start">(a)</text>
<text x="2.00" y="839.80" font-family='"Liberation Sans", Arial, sans-serif' font-size="40.5" font-weight="normal" text-anchor="start">(b)</text>
</svg>
</body></html>
